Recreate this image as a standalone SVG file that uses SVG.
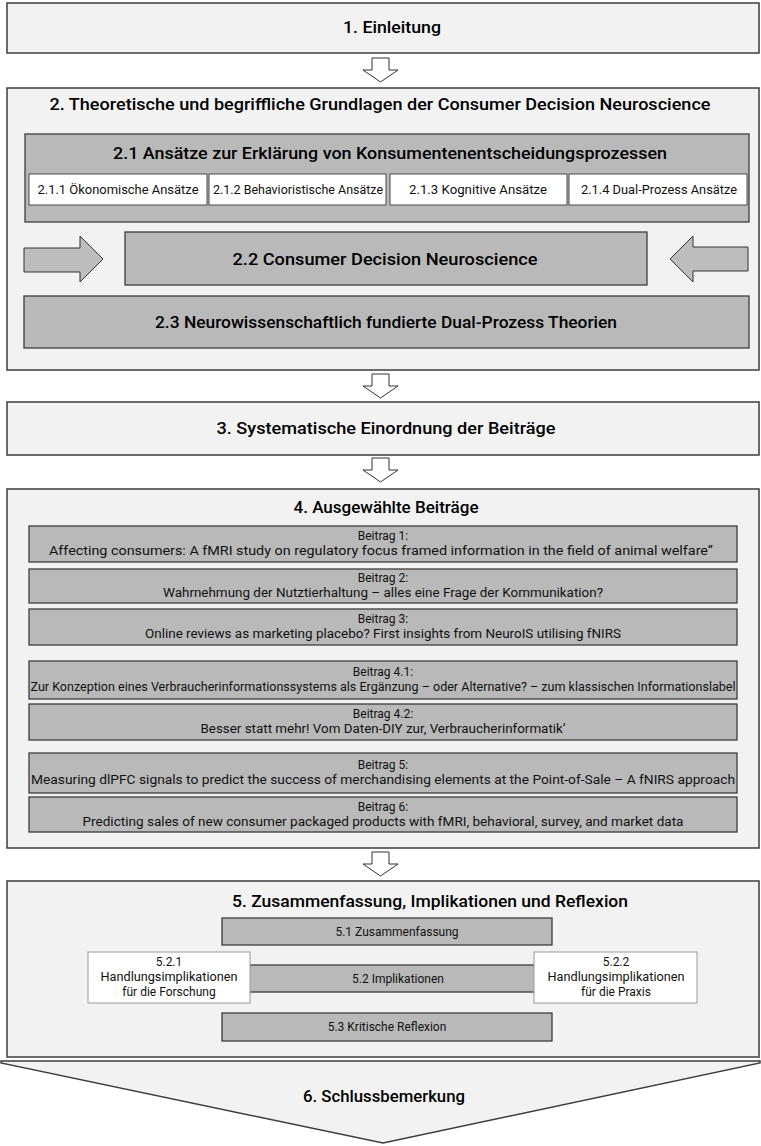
<svg xmlns="http://www.w3.org/2000/svg" width="761" height="1146" viewBox="0 0 761 1146">
  <defs>
    <style>
      .sec { fill: #f2f2f2; stroke: #3c3c3c; stroke-width: 1.5; }
      .gray { fill: #b9b9b9; stroke: #3c3c3c; stroke-width: 1.3; }
      .white { fill: #ffffff; stroke: #4a4a4a; stroke-width: 1; }
      .wlight { fill: #ffffff; stroke: #9a9a9a; stroke-width: 1; }
      .flow { fill: #ffffff; stroke: #333333; stroke-width: 1; }
      .side { fill: #bdbdbd; stroke: #333333; stroke-width: 1; }
      .h { font-family: Roboto, "Liberation Sans", sans-serif; font-weight: 500; font-size: 16px; fill: #000; text-anchor: middle; }
      .s { font-family: Roboto, "Liberation Sans", sans-serif; font-weight: 400; font-size: 12px; fill: #111; text-anchor: middle; }
    </style>
    <path id="down" d="M0,0 H17 V12 H26 L8.5,24 L-9,12 H0 Z"/>
  </defs>

  <g id="n1">
    <rect class="sec" x="7" y="3" width="752" height="50"/>
    <text class="h" x="392" y="33" textLength="98" lengthAdjust="spacingAndGlyphs">1. Einleitung</text>
  </g>

  <g id="n2">
    <rect class="sec" x="7" y="88" width="752" height="282"/>
    <text class="h" x="380" y="110" textLength="661" lengthAdjust="spacingAndGlyphs">2. Theoretische und begriffliche Grundlagen der Consumer Decision Neuroscience</text>
  </g>

  <g id="n2-1">
    <rect class="gray" x="25" y="134" width="724" height="88"/>
    <text class="h" x="390" y="159" textLength="554" lengthAdjust="spacingAndGlyphs">2.1 Ansätze zur Erklärung von Konsumentenentscheidungsprozessen</text>
  </g>
  <g id="n2-1-1">
    <rect class="white" x="29" y="174" width="178" height="31"/>
    <text class="s" x="118" y="194" textLength="161" lengthAdjust="spacingAndGlyphs">2.1.1 Ökonomische Ansätze</text>
  </g>
  <g id="n2-1-2">
    <rect class="white" x="209" y="174" width="177" height="31"/>
    <text class="s" x="298" y="194" textLength="170" lengthAdjust="spacingAndGlyphs">2.1.2 Behavioristische Ansätze</text>
  </g>
  <g id="n2-1-3">
    <rect class="white" x="390" y="174" width="177" height="31"/>
    <text class="s" x="478" y="194" textLength="138" lengthAdjust="spacingAndGlyphs">2.1.3 Kognitive Ansätze</text>
  </g>
  <g id="n2-1-4">
    <rect class="white" x="569" y="174" width="178" height="31"/>
    <text class="s" x="659" y="194" textLength="156" lengthAdjust="spacingAndGlyphs">2.1.4 Dual-Prozess Ansätze</text>
  </g>

  <g id="n2-2">
    <rect class="gray" x="125" y="232" width="522" height="53"/>
    <text class="h" x="385" y="265" textLength="305" lengthAdjust="spacingAndGlyphs">2.2 Consumer Decision Neuroscience</text>
  </g>

  <g id="n2-3">
    <rect class="gray" x="24" y="296" width="725" height="52"/>
    <text class="h" x="386" y="328" textLength="462" lengthAdjust="spacingAndGlyphs">2.3 Neurowissenschaftlich fundierte Dual-Prozess Theorien</text>
  </g>

  <g id="n3">
    <rect class="sec" x="7" y="402" width="752" height="53"/>
    <text class="h" x="386" y="434" textLength="339" lengthAdjust="spacingAndGlyphs">3. Systematische Einordnung der Beiträge</text>
  </g>

  <g id="n4">
    <rect class="sec" x="7" y="489" width="752" height="359"/>
    <text class="h" x="386" y="513" textLength="185" lengthAdjust="spacingAndGlyphs">4. Ausgewählte Beiträge</text>
  </g>

  <g id="b1">
    <rect class="gray" x="29" y="526" width="708" height="36"/>
    <text class="s" x="383" y="540">Beitrag 1:</text>
    <text class="s" x="381" y="555" textLength="664" lengthAdjust="spacingAndGlyphs">Affecting consumers: A fMRI study on regulatory focus framed information in the field of animal welfare”</text>
  </g>
  <g id="b2">
    <rect class="gray" x="29" y="569" width="708" height="34"/>
    <text class="s" x="383" y="582">Beitrag 2:</text>
    <text class="s" x="383" y="597" textLength="440" lengthAdjust="spacingAndGlyphs">Wahrnehmung der Nutztierhaltung – alles eine Frage der Kommunikation?</text>
  </g>
  <g id="b3">
    <rect class="gray" x="29" y="609" width="708" height="36"/>
    <text class="s" x="383" y="623">Beitrag 3:</text>
    <text class="s" x="383" y="638" textLength="476" lengthAdjust="spacingAndGlyphs">Online reviews as marketing placebo? First insights from NeuroIS utilising fNIRS</text>
  </g>
  <g id="b4-1">
    <rect class="gray" x="29" y="661" width="708" height="38"/>
    <text class="s" x="383" y="676">Beitrag 4.1:</text>
    <text class="s" x="383" y="691" textLength="705" lengthAdjust="spacingAndGlyphs">Zur Konzeption eines Verbraucherinformationssystems als Ergänzung – oder Alternative? – zum klassischen Informationslabel</text>
  </g>
  <g id="b4-2">
    <rect class="gray" x="29" y="704" width="708" height="36"/>
    <text class="s" x="383" y="718">Beitrag 4.2:</text>
    <text class="s" x="383" y="733" textLength="365" lengthAdjust="spacingAndGlyphs">Besser statt mehr! Vom Daten-DIY zur, Verbraucherinformatik‘</text>
  </g>
  <g id="b5">
    <rect class="gray" x="29" y="753" width="708" height="40"/>
    <text class="s" x="383" y="769">Beitrag 5:</text>
    <text class="s" x="383" y="784" textLength="704" lengthAdjust="spacingAndGlyphs">Measuring dlPFC signals to predict the success of merchandising elements at the Point-of-Sale – A fNIRS approach</text>
  </g>
  <g id="b6">
    <rect class="gray" x="29" y="797" width="708" height="35"/>
    <text class="s" x="383" y="811">Beitrag 6:</text>
    <text class="s" x="383" y="826" textLength="601" lengthAdjust="spacingAndGlyphs">Predicting sales of new consumer packaged products with fMRI, behavioral, survey, and market data</text>
  </g>

  <g id="n5">
    <rect class="sec" x="7" y="881" width="752" height="176"/>
    <text class="h" x="430" y="907" textLength="396" lengthAdjust="spacingAndGlyphs">5. Zusammenfassung, Implikationen und Reflexion</text>
  </g>
  <g id="n5-1">
    <rect class="gray" x="222" y="918" width="330" height="27"/>
    <text class="s" x="397" y="936">5.1 Zusammenfassung</text>
  </g>
  <g id="n5-2">
    <rect class="gray" x="222" y="965" width="330" height="27"/>
    <text class="s" x="398" y="983">5.2 Implikationen</text>
  </g>
  <g id="n5-2-1">
    <rect class="wlight" x="88" y="952" width="162" height="51"/>
    <text class="s" x="169" y="966">5.2.1</text>
    <text class="s" x="169" y="981" textLength="137" lengthAdjust="spacingAndGlyphs">Handlungsimplikationen</text>
    <text class="s" x="169" y="996">für die Forschung</text>
  </g>
  <g id="n5-2-2">
    <rect class="wlight" x="534" y="952" width="163" height="51"/>
    <text class="s" x="616" y="966">5.2.2</text>
    <text class="s" x="616" y="981" textLength="137" lengthAdjust="spacingAndGlyphs">Handlungsimplikationen</text>
    <text class="s" x="616" y="996">für die Praxis</text>
  </g>
  <g id="n5-3">
    <rect class="gray" x="222" y="1013" width="330" height="28"/>
    <text class="s" x="387" y="1031">5.3 Kritische Reflexion</text>
  </g>

  <g id="n6">
    <polygon class="sec" points="1,1061 760,1061 760,1063 383,1143 1,1063"/>
    <text class="h" x="384" y="1102" textLength="162" lengthAdjust="spacingAndGlyphs">6. Schlussbemerkung</text>
  </g>

  <!-- flow arrows between sections, and side arrows pointing into 2.2 -->
  <g id="connectors">
    <use href="#down" class="flow" x="372" y="58"/>
    <use href="#down" class="flow" x="372" y="374"/>
    <use href="#down" class="flow" x="372" y="458"/>
    <use href="#down" class="flow" x="372" y="852"/>
    <polygon class="side" points="24,248 80,248 80,236 103,259 80,282 80,272 24,272"/>
    <polygon class="side" points="748,247 693,247 693,236 670,259 693,282 693,271 748,271"/>
  </g>
</svg>
